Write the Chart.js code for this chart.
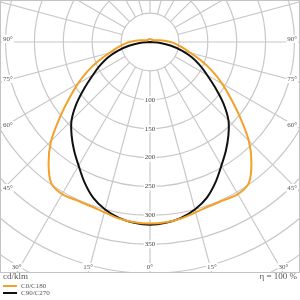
<!DOCTYPE html>
<html>
<head>
<meta charset="utf-8">
<script src="https://cdn.jsdelivr.net/npm/chart.js@4/dist/chart.umd.min.js"></script>
<style>
  html, body { margin: 0; padding: 0; background: #fff; }
  body { width: 300px; height: 300px; position: relative; overflow: hidden; font-family: "Liberation Serif", "DejaVu Serif", serif; color: #555; }
  #plot { position: absolute; left: 0; top: 0; width: 300px; height: 273px; box-sizing: border-box; border: 1px solid #c4c4c4; overflow: hidden; }
  #chart { position: absolute; left: -140px; top: -248px; }
  .unit { position: absolute; left: 3px; top: 271px; font-size: 9px; }
  .eta { position: absolute; right: 3px; top: 271px; font-size: 9px; }
  .legend { position: absolute; left: 3px; top: 283px; font-size: 7px; line-height: 6.5px; }
  .legend div { display: flex; align-items: center; }
  .legend span { display: inline-block; width: 14px; height: 2px; margin-right: 4px; }
</style>
</head>
<body>
<div id="plot"><canvas id="chart" width="578" height="578"></canvas></div>
<div class="unit">cd/klm</div>
<div class="eta">η = 100 %</div>
<div class="legend">
  <div><span style="background:#f2a12a"></span>C0/C180</div>
  <div><span style="background:#111"></span>C90/C270</div>
</div>
<script>
// gamma angles (deg from nadir), half plane 0..180
const gammaHalf = [0, 5, 10, 15, 20, 25, 30, 35, 40, 45, 50, 55, 60, 65, 70, 75, 80, 85, 90,
  95, 100, 105, 110, 115, 120, 125, 130, 135, 140, 145, 150, 155, 160, 165, 170, 175, 180];
// intensities in cd/klm
const c0c180 = [314, 313, 310, 305, 302, 302, 304, 298, 273, 242, 204, 171, 144, 119, 94, 72, 58, 46, 36,
  25, 17, 12, 9, 7, 6, 6, 6, 5, 5, 5, 5, 5, 5, 5, 5, 5, 5];
const c90c270 = [316, 314, 309, 300, 287, 268, 247, 229, 211, 192, 166, 138, 114, 95, 77, 57, 37, 18, 0,
  0, 0, 0, 0, 0, 0, 0, 0, 0, 0, 0, 0, 0, 0, 0, 0, 0, 0];
const ringLabels = [100, 150, 200, 250, 300, 350];
const angleLabels = [0, 15, 30, 45, 60, 75, 90];

// full circle, mirrored around the vertical axis
const n = (gammaHalf.length - 1) * 2;
const labels = [];
for (let i = 0; i < n; i++) labels.push(i * 5);
const mirror = arr => labels.map((_, i) => i < gammaHalf.length ? arr[i] : arr[n - i]);

// visible box in canvas coordinates
const box = { left: 140, top: 248, right: 438, bottom: 520 };

const polarDecor = {
  id: 'polarDecor',
  beforeDatasetsDraw(chart) {
    const r = chart.scales.r;
    const ctx = chart.ctx;
    ctx.save();
    // spokes every 15 deg, from the 50 ring outward
    ctx.strokeStyle = '#c8c8c8';
    ctx.lineWidth = 1.2;
    labels.forEach((deg, i) => {
      if (deg % 15 !== 0) return;
      const a = r.getPointPositionForValue(i, 50);
      const b = r.getPointPositionForValue(i, 500);
      ctx.beginPath();
      ctx.moveTo(a.x, a.y);
      ctx.lineTo(b.x, b.y);
      ctx.stroke();
    });
    // ring values along the nadir
    ctx.font = '7px "Liberation Serif", serif';
    ctx.textAlign = 'center';
    ctx.textBaseline = 'middle';
    ringLabels.forEach(v => {
      const p = r.getPointPositionForValue(0, v);
      const w = ctx.measureText(String(v)).width;
      ctx.fillStyle = '#fff';
      ctx.fillRect(p.x - w / 2 - 1, p.y - 4, w + 2, 8);
      ctx.fillStyle = '#444';
      ctx.fillText(String(v), p.x, p.y);
    });
    // angle labels where the spokes leave the box
    angleLabels.forEach(deg => {
      const t = deg * Math.PI / 180;
      [-1, 1].forEach(side => {
        if (deg === 0 && side === 1) return;
        const dx = Math.sin(t), dy = Math.cos(t);
        const tx = dx > 1e-6 ? (r.xCenter - box.left) / dx : Infinity;
        const ty = dy > 1e-6 ? (box.bottom - r.yCenter) / dy : Infinity;
        const txt = deg + '°';
        const w = ctx.measureText(txt).width;
        let x, y;
        if (tx < ty) {
          y = r.yCenter + dy * tx;
          ctx.textAlign = side < 0 ? 'left' : 'right';
          x = side < 0 ? box.left + 2 : box.right - 2;
          y -= 3;
          const bx = side < 0 ? x : x - w;
          ctx.fillStyle = '#fff';
          ctx.fillRect(bx - 1, y - 4, w + 2, 8);
        } else {
          x = r.xCenter + side * dx * ty;
          y = box.bottom - 6;
          ctx.textAlign = 'center';
          ctx.fillStyle = '#fff';
          ctx.fillRect(x - w / 2 - 1, y - 4, w + 2, 8);
        }
        ctx.fillStyle = '#555';
        ctx.fillText(txt, x, y);
      });
    });
    ctx.restore();
  }
};

new Chart(document.getElementById('chart'), {
  type: 'radar',
  data: {
    labels: labels,
    datasets: [
      {
        label: 'C0/C180',
        data: mirror(c0c180),
        borderColor: '#f2a12a',
        borderWidth: 2,
        fill: false,
        pointRadius: 0,
        tension: 0.3
      },
      {
        label: 'C90/C270',
        data: mirror(c90c270),
        borderColor: '#111',
        borderWidth: 2,
        fill: false,
        pointRadius: 0,
        tension: 0.3
      }
    ]
  },
  options: {
    responsive: false,
    animation: false,
    layout: { padding: 0 },
    plugins: { legend: { display: false }, tooltip: { enabled: false } },
    scales: {
      r: {
        startAngle: 180,
        min: 0,
        max: 500,
        ticks: { display: false, stepSize: 50 },
        grid: { circular: true, color: '#c8c8c8', lineWidth: 1.2 },
        angleLines: { display: false },
        pointLabels: { display: false }
      }
    }
  },
  plugins: [polarDecor]
});
</script>
</body>
</html>
